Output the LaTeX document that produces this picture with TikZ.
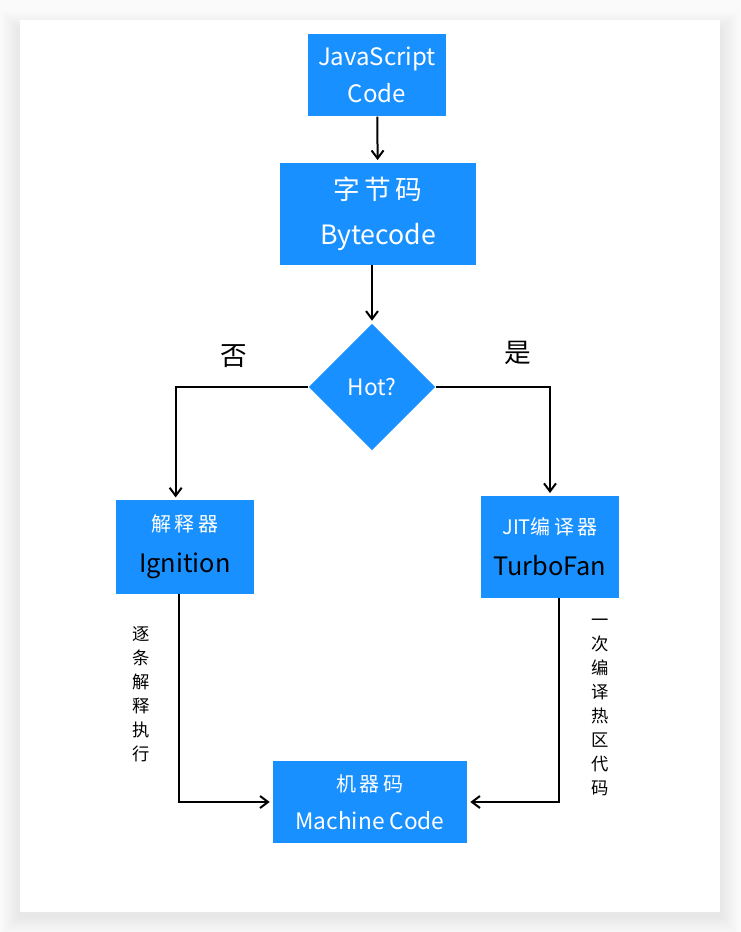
\documentclass[tikz,border=0pt]{standalone}
\usepackage{fontspec}
\setmainfont{Noto Sans CJK SC}
\usetikzlibrary{shapes.geometric,arrows.meta,positioning}
\definecolor{flowblue}{RGB}{24,144,255}
\definecolor{pagegray}{RGB}{250,250,250}

\begin{document}
\begin{tikzpicture}[x=0.75pt, y=-0.75pt,
    box/.style = {fill=flowblue, text=white, align=center, inner sep=0pt},
    hot/.style = {diamond, fill=flowblue, text=white, inner sep=0pt, aspect=1},
    flow/.style = {draw=black, line width=1.5pt, -{Straight Barb[length=6pt,width=9pt]}, shorten >=2pt},
    vlabel/.style = {align=center, font=\fontsize{13}{18}\selectfont}]
    % Card with a soft shadow
    \useasboundingbox (0,0) rectangle (741,932);
    \fill[pagegray] (0,0) rectangle (741,932);
    \begin{scope}
        \clip (0,0) rectangle (741,932);
        \foreach \s in {2,4,...,18}
            \fill[black, opacity=0.008] (20-\s,20-\s+10) rectangle (720+\s,912+\s+4);
    \end{scope}
    \fill[white] (20,20) rectangle (720,912);

    % Nodes
    \node[box, minimum width=104pt, minimum height=62pt, font=\fontsize{18}{27.5}\selectfont] (js) at (377,75) {JavaScript\\Code};
    \node[box, minimum width=147pt, minimum height=76.5pt, font=\fontsize{20}{33.5}\selectfont] (bc) at (378,214) {字\,节\,码\\Bytecode};
    \node[hot, minimum width=95pt, minimum height=95pt, font=\fontsize{17}{18}\selectfont] (hotq) at (372,387) {Hot?};
    \node[box, minimum width=104pt, minimum height=70pt, font=\fontsize{19}{30.5}\selectfont] (interp) at (185,547) {{\fontsize{15}{30.5}\selectfont\color{white}解\,释\,器}\\\color{black}Ignition};
    \node[box, minimum width=104pt, minimum height=76.5pt, font=\fontsize{19}{30.5}\selectfont] (jit) at (550,547) {{\fontsize{15}{30.5}\selectfont\color{white}JIT编\,译\,器}\\\color{black}TurboFan};
    \node[box, minimum width=146pt, minimum height=61pt, font=\fontsize{17}{28.5}\selectfont] (mc) at (370,802) {{\fontsize{15}{28.5}\selectfont 机\,器\,码}\\Machine Code};

    % Labels
    \node[font=\fontsize{20}{20}\selectfont] (no) at (234,356) {否};
    \node[font=\fontsize{20}{20}\selectfont] (yes) at (518,353) {是};
    \node[vlabel] (step) at (141,694) {逐\\条\\解\\释\\执\\行};
    \node[vlabel] (once) at (600,707) {一\\次\\编\\译\\热\\区\\代\\码};

    % Connectors
    \draw[flow] (js) -- (bc);
    \draw[flow] (hotq.north |- bc.south) -- (hotq.north);
    \draw[flow] (hotq.west) -| ([xshift=-7pt]interp.north);
    \draw[flow] (hotq.east) -| (jit.north);
    \draw[flow] ([xshift=-4.5pt]interp.south) |- (mc.west);
    \draw[flow] ([xshift=7pt]jit.south) |- (mc.east);
\end{tikzpicture}
\end{document}
